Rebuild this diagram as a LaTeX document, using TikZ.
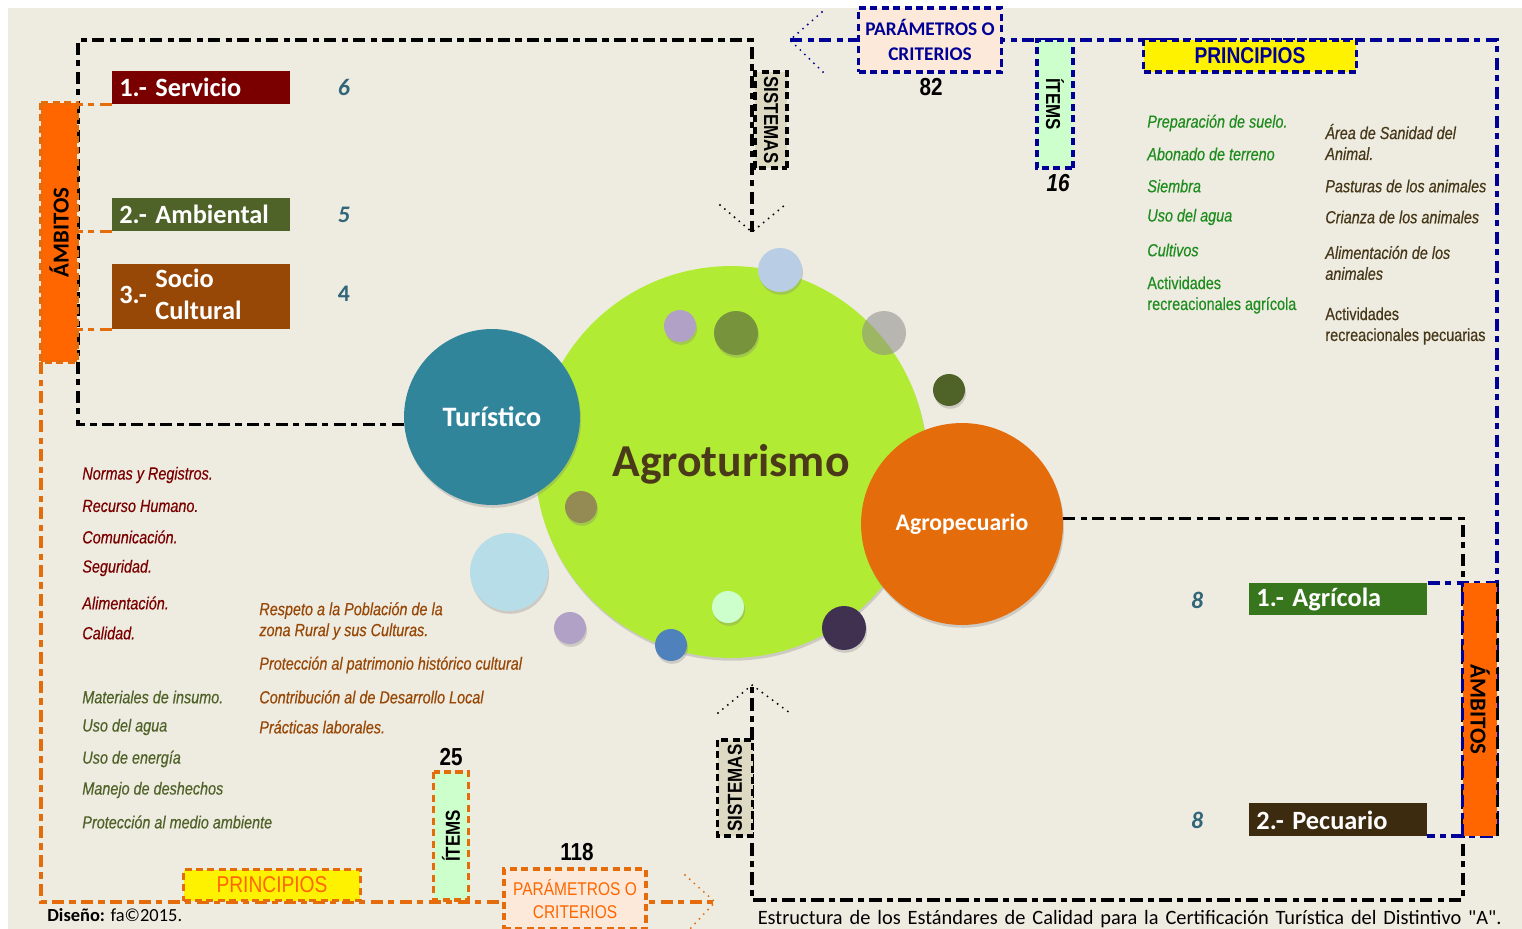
\documentclass[tikz,border=0pt]{standalone}
\usepackage{fontspec}
\setmainfont{Carlito}
\newfontfamily\narrowfont[FakeStretch=0.84]{Liberation Sans}
\newfontfamily\listfont[FakeStretch=0.82, FakeBold=0.4]{Liberation Sans}
\usetikzlibrary{shadows}

\definecolor{paper}{RGB}{238,235,224}
\definecolor{ambito}{RGB}{255,102,0}
\definecolor{orline}{RGB}{228,108,10}
\definecolor{navyline}{RGB}{0,0,150}
\definecolor{peach}{RGB}{253,233,217}
\definecolor{mint}{RGB}{204,255,204}
\definecolor{sand}{RGB}{221,217,195}
\definecolor{servicio}{RGB}{122,0,0}
\definecolor{ambiental}{RGB}{79,98,40}
\definecolor{sociocult}{RGB}{152,72,6}
\definecolor{agricola}{RGB}{56,118,29}
\definecolor{pecuario}{RGB}{61,43,16}
\definecolor{cifra}{RGB}{49,101,122}
\definecolor{lime}{RGB}{178,235,51}
\definecolor{turq}{RGB}{49,133,155}
\definecolor{agroor}{RGB}{228,108,10}
\definecolor{verdelst}{RGB}{30,140,30}
\definecolor{cafelst}{RGB}{70,55,25}
\definecolor{titulo}{RGB}{74,58,26}

\tikzset{
  lnk/.style={line width=1.9pt, dash pattern=on 7pt off 3pt on 3.5pt off 3pt},
  blkline/.style={lnk, black},
  orgline/.style={lnk, orline},
  bluline/.style={lnk, navyline},
  dotarrow/.style={line width=1.2pt, dash pattern=on 0pt off 3.6pt, line cap=round},
  boxline/.style={line width=1.8pt, dash pattern=on 4pt off 2.5pt},
  lbl/.style={anchor=north west, text=white, inner xsep=4pt, inner ysep=0pt,
    text width=3.28cm, align=left, minimum height=0.66cm,
    font=\bfseries\fontsize{15}{18.5}\selectfont},
  num/.style={text=cifra, font=\bfseries\itshape\fontsize{13.5}{14}\selectfont},
  lst/.style={anchor=west, inner sep=0pt, align=left,
    font=\listfont\itshape\fontsize{10}{11.9}\selectfont},
  vtxt/.style={font=\narrowfont\bfseries\fontsize{11.5}{12}\selectfont, inner sep=0pt},
  cnt/.style={font=\narrowfont\bfseries\fontsize{14}{14}\selectfont},
  ball/.style={circle, inner sep=0pt, minimum size=#1*0.04cm,
    drop shadow={shadow xshift=0.6pt, shadow yshift=-1.6pt, opacity=0.3}},
}
\newcommand{\lblnum}[1]{\makebox[0.72cm][l]{#1}}
\newcommand{\sq}{\XeTeXglyph\XeTeXcharglyph"22\relax}

\begin{document}
\begin{tikzpicture}[x=0.02cm, y=-0.02cm]
    \useasboundingbox (0,0) rectangle (1522,929);
    \fill[white] (0,0) rectangle (1522,929);
    \fill[paper] (8,8) rectangle (1522,929);

    % circulos
    \node[ball=196, fill=lime] (agt) at (731,462) {};
    \node[ball=88, fill=turq, text=white, font=\bfseries\fontsize{16}{16}\selectfont] (tur) at (492,417) {Turístico};
    \node[ball=101, fill=agroor, text=white, font=\bfseries\fontsize{13.5}{14}\selectfont] (agro) at (962,524) {Agropecuario};
    \node[text=titulo, font=\bfseries\fontsize{26}{26}\selectfont] (agtxt) at (731,464) {Agroturismo};
    \node[ball=22, fill={rgb,255:red,185;green,205;blue,229}] (b1) at (780,270) {};
    \node[ball=16, fill={rgb,255:red,178;green,161;blue,199}] (b2) at (680,326) {};
    \node[ball=22, fill={rgb,255:red,119;green,147;blue,60}] (b3) at (736,333) {};
    \node[circle, inner sep=0pt, minimum size=0.88cm, fill=black!45, opacity=0.55] (b4) at (884,333) {};
    \node[ball=16, fill={rgb,255:red,79;green,98;blue,40}] (b5) at (949,390) {};
    \node[ball=16, fill={rgb,255:red,148;green,138;blue,84}] (b6) at (581,507) {};
    \node[ball=39, fill={rgb,255:red,183;green,221;blue,232}] (b7) at (509,572) {};
    \node[ball=16, fill={rgb,255:red,178;green,161;blue,199}] (b8) at (570,628) {};
    \node[ball=16, fill=mint] (b9) at (728,607) {};
    \node[ball=16, fill={rgb,255:red,79;green,129;blue,189}] (b10) at (671,645) {};
    \node[ball=22, fill={rgb,255:red,64;green,49;blue,81}] (b11) at (844,628) {};

    % recuadros de etiquetas
    \node[lbl, fill=servicio] (serv) at (112,71) {\lblnum{1.-}Servicio};
    \node[lbl, fill=ambiental] (ambi) at (112,198) {\lblnum{2.-}Ambiental};
    \node[lbl, fill=sociocult, minimum height=1.28cm] (soc) at (112,264)
        {\lblnum{3.-}\begin{tabular}[c]{@{}l@{}}Socio\\Cultural\end{tabular}};
    \node[lbl, fill=agricola, minimum height=0.64cm] (agri) at (1249,583) {\lblnum{1.-}Agrícola};
    \node[lbl, fill=pecuario, minimum height=0.66cm] (pecu) at (1249,803) {\lblnum{2.-}Pecuario};
    \node[num] at (344,87) {6};
    \node[num] at (344,215) {5};
    \node[num, font=\bfseries\fontsize{13.5}{14}\selectfont] at (344,294) {4};
    \node[num] at (1197,600) {8};
    \node[num] at (1197,820) {8};

    % lineas de marco
    \coordinate (tipA) at (752,232);
    \coordinate (tipB) at (752,685);
    \coordinate (tipC) at (790,40);
    \coordinate (tipD) at (715,902);
    \coordinate (cTL) at (78,40);
    \coordinate (cBR) at (1463,900);
    \coordinate (cTR) at (1497,40);
    \coordinate (cRB) at (1427,836);
    \coordinate (orgA) at (41,362);
    \coordinate (lbar) at (77,0);
    \draw[blkline] (tur.185) -| (cTL) -| (tipA);
    \draw[blkline] (agro.3) -| (cBR) -| (tipB);
    \draw[bluline] (tipC) -- (cTR) |- (cRB);
    \draw[bluline] (agri.north east) -- (agri.north east -| cTR);
    \draw[orgline] (orgA) |- (tipD);
    \draw[orgline] (serv.south west) -- (serv.south west -| lbar);
    \draw[orgline] (ambi.south west) -- (ambi.south west -| lbar);
    \draw[orgline] (soc.south west) -- (soc.south west -| lbar);
    \draw[dotarrow] (tipA) ++(-32,-27) -- (tipA) -- ++(33,-27);
    \draw[dotarrow] (tipB) ++(-34,28) -- (tipB) -- ++(38,28);
    \draw[dotarrow, navyline] (tipC) ++(32,-28) -- (tipC) -- ++(35,34);
    \draw[dotarrow, orline] (tipD) ++(-30,-27) -- (tipD) -- ++(-25,27);

    % ambitos
    \node[fill=ambito, draw=orline, boxline, rotate=90, minimum width=5.18cm, minimum height=0.72cm,
        font=\bfseries\fontsize{13}{13}\selectfont] (ambL) at (59,232.5) {ÁMBITOS};
    \node[fill=ambito, rotate=-90, minimum width=5.06cm, minimum height=0.68cm,
        font=\bfseries\fontsize{13}{13}\selectfont] (ambR) at (1480,709.5) {ÁMBITOS};
    \draw[blkline] (ambR.north east) -- (ambR.north west);
    \draw[bluline] (ambR.south east) -- (ambR.south west);

    % sistemas, items, principios, parametros
    \node[vtxt, fill=sand, draw, boxline, rotate=-90, minimum width=1.92cm, minimum height=0.64cm] (sisA) at (771,120) {SISTEMAS};
    \node[vtxt, fill=sand, draw, boxline, rotate=90, minimum width=1.92cm, minimum height=0.7cm] (sisB) at (735,788) {SISTEMAS};
    \node[vtxt, fill=mint, draw=navyline, boxline, rotate=-90, minimum width=2.56cm, minimum height=0.72cm] (itA) at (1055,104) {ÍTEMS};
    \node[vtxt, fill=mint, draw=orline, boxline, rotate=90, minimum width=2.56cm, minimum height=0.7cm] (itB) at (451,836) {ÍTEMS};
    \node[fill=yellow, draw=navyline, boxline, text=navyline, minimum width=4.26cm, minimum height=0.64cm,
        font=\narrowfont\bfseries\fontsize{13}{13}\selectfont] (prA) at (1250,56) {PRINCIPIOS};
    \node[fill=yellow, draw=orline, boxline, text=ambito, minimum width=3.54cm, minimum height=0.62cm,
        font=\narrowfont\fontsize{13}{13}\selectfont] (prB) at (272,885) {PRINCIPIOS};
    \node[fill=peach, draw=navyline, boxline, text=navyline, minimum width=2.86cm, minimum height=1.28cm,
        align=center, font=\bfseries\fontsize{11}{14.7}\selectfont] (paA) at (930,40) {PARÁMETROS O\\CRITERIOS};
    \node[fill=peach, draw=orline, boxline, text=ambito, minimum width=2.84cm, minimum height=1.2cm,
        align=center, font=\narrowfont\fontsize{10.5}{13}\selectfont] (paB) at (575,899) {PARÁMETROS O\\CRITERIOS};
    \node[cnt] at (931,87) {82};
    \node[cnt, font=\narrowfont\bfseries\itshape\fontsize{14}{14}\selectfont] at (1058,183) {16};
    \node[cnt] at (451,757) {25};
    \node[cnt] at (577,852) {118};

    % listas
    \node[lst, text=verdelst] at (1147,123) {Preparación de suelo.};
    \node[lst, text=verdelst] at (1147,154) {Abonado de terreno};
    \node[lst, text=verdelst] at (1147,186) {Siembra};
    \node[lst, text=verdelst] at (1147,217) {Uso del agua};
    \node[lst, text=verdelst] at (1147,250) {Cultivos};
    \node[lst, text=verdelst, font=\listfont\fontsize{10}{11.9}\selectfont] at (1147,295) {Actividades\\recreacionales agrícola};
    \node[lst, text=cafelst] at (1325,142) {Área de Sanidad del\\Animal.};
    \node[lst, text=cafelst] at (1325,186) {Pasturas de los animales};
    \node[lst, text=cafelst] at (1325,217) {Crianza de los animales};
    \node[lst, text=cafelst] at (1325,263) {Alimentación de los\\animales};
    \node[lst, text=cafelst, font=\listfont\fontsize{10}{11.9}\selectfont] at (1325,326) {Actividades\\recreacionales pecuarias};

    \node[lst, text=servicio] at (82,475) {Normas y Registros.};
    \node[lst, text=servicio] at (82,506) {Recurso Humano.};
    \node[lst, text=servicio] at (82,537) {Comunicación.};
    \node[lst, text=servicio] at (82,568) {Seguridad.};
    \node[lst, text=servicio] at (82,603) {Alimentación.};
    \node[lst, text=servicio] at (82,633) {Calidad.};
    \node[lst, text=ambiental] at (82,697) {Materiales de insumo.};
    \node[lst, text=ambiental] at (82,727) {Uso del agua};
    \node[lst, text=ambiental] at (82,759) {Uso de energía};
    \node[lst, text=ambiental] at (82,790) {Manejo de deshechos};
    \node[lst, text=ambiental] at (82,822) {Protección al medio ambiente};
    \node[lst, text=sociocult] at (259,621) {Respeto a la Población de la\\zona Rural y sus Culturas.};
    \node[lst, text=sociocult] at (259,665) {Protección al patrimonio histórico cultural};
    \node[lst, text=sociocult] at (259,697) {Contribución al de Desarrollo Local};
    \node[lst, text=sociocult] at (259,727) {Prácticas laborales.};

    % pie
    \node[anchor=west, inner sep=0pt, font=\fontsize{10.5}{11}\selectfont] (dis) at (47,915) {\textbf{Diseño:} fa©2015.};
    \node[anchor=east, inner sep=0pt, font=\fontsize{11.6}{12}\selectfont] (cap) at (1502,919)
        {\makebox[14.88cm][s]{Estructura de los Estándares de Calidad para la Certificación Turística del Distintivo \sq A\sq .}};
\end{tikzpicture}
\end{document}
